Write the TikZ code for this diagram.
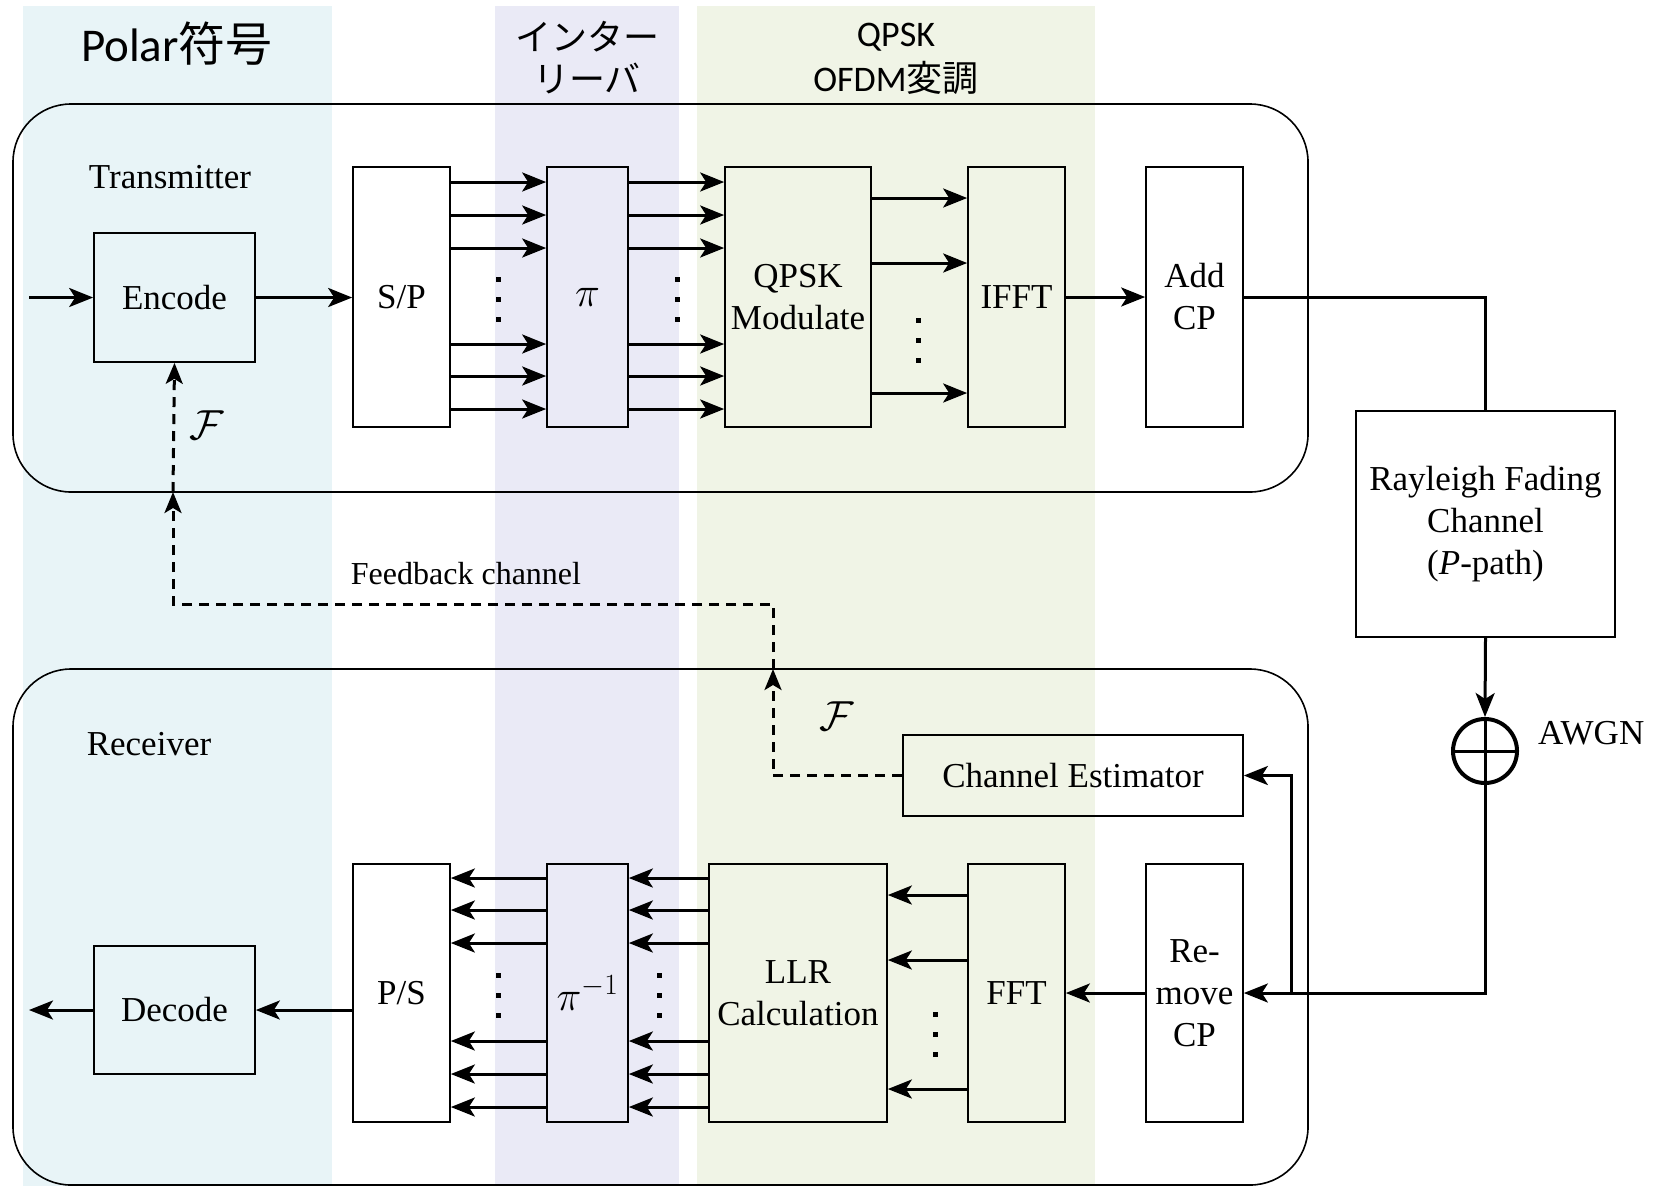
\RequirePackage{fix-cm}
\documentclass[tikz,border=0pt]{standalone}
\usepackage{fontspec}
\setmainfont{Liberation Serif}
\newfontfamily\carl{Carlito}
\newfontfamily\cjk{Noto Sans CJK JP}
\usetikzlibrary{arrows.meta,calc}
\definecolor{bandblue}{RGB}{232,244,247}
\definecolor{bandpurple}{RGB}{234,234,246}
\definecolor{bandgreen}{RGB}{240,244,230}
\newcommand\mydots[2]{\fill (#1-2.5,#2-22.5) rectangle (#1+2.5,#2-17.5);
  \fill (#1-2.5,#2-2.5) rectangle (#1+2.5,#2+2.5);
  \fill (#1-2.5,#2+17.5) rectangle (#1+2.5,#2+22.5);}
\begin{document}
\begin{tikzpicture}[x=1pt,y=-1pt,
  txt/.style={font=\fontsize{35}{42}\selectfont, inner sep=0pt, align=center},
  box/.style={draw, line width=1.7pt, rectangle, inner sep=0pt, align=center, font=\fontsize{35}{42}\selectfont},
  frame/.style={draw, line width=1.6pt, rectangle, rounded corners=58pt, inner sep=0pt},
  conn/.style={line width=3pt, -{Stealth[length=24pt,width=19pt,inset=6pt]}},
  line/.style={line width=3pt},
  fb/.style={line width=3pt, dash pattern=on 10pt off 7pt},
  fbarr/.style={fb, -{Stealth[length=21pt,width=17pt,inset=5pt]}},
  bandtitle/.style={inner sep=0pt, align=center},
  mathbig/.style={font=\fontsize{42}{48}\selectfont}
]
\useasboundingbox (0,0) rectangle (1661,1186);
% bands
\fill[bandblue] (23,6) rectangle (332,1186);
\fill[bandpurple] (495,6) rectangle (679,1186);
\fill[bandgreen] (697,6) rectangle (1095,1186);
\node[bandtitle] (t1) at (177,44) {\fontsize{47}{56}\selectfont{\carl Polar}{\cjk 符号}};
\node[bandtitle, font=\fontsize{36}{42}\selectfont] (t2) at (587,58) {{\cjk インター}\\{\cjk リーバ}};
\node[bandtitle, font=\fontsize{36}{45}\selectfont] (t3) at (896,59) {{\carl QPSK}\\{\carl OFDM}{\cjk 変調}};
% frames
\node[frame, minimum width=1295pt, minimum height=388pt] (tx) at (660.5,298) {};
\node[frame, minimum width=1295pt, minimum height=516pt] (rx) at (660.5,927) {};
\node[txt] (txl) at (170,177) {Transmitter};
\node[txt] (rxl) at (149,744) {Receiver};
% transmitter boxes
\node[box, minimum width=161pt, minimum height=129pt] (enc) at (174.5,297.5) {Encode};
\node[box, minimum width=97pt, minimum height=260pt] (sp) at (401.5,297) {S/P};
\node[box, mathbig, minimum width=81pt, minimum height=260pt] (pi) at (587.5,297) {$\pi$};
\node[box, minimum width=146pt, minimum height=260pt] (qpsk) at (798,297) {QPSK\\Modulate};
\node[box, minimum width=97pt, minimum height=260pt] (ifft) at (1016.5,297) {IFFT};
\node[box, minimum width=97pt, minimum height=260pt] (addcp) at (1194.5,297) {Add\\CP};
% channel
\node[box, minimum width=259pt, minimum height=226pt] (ray) at (1485.5,524) {Rayleigh Fading\\Channel\\(\textit{P}-path)};
\node[draw, circle, line width=4pt, minimum size=64pt, inner sep=0pt] (awgn) at (1485,751) {};
\draw[line width=3pt] (awgn.north) -- (awgn.south) (awgn.west) -- (awgn.east);
\node[txt, anchor=west] (awgnl) at (1538,733) {AWGN};
% receiver boxes
\node[box, minimum width=340pt, minimum height=81pt] (chest) at (1073,775.5) {Channel Estimator};
\node[box, minimum width=97pt, minimum height=258pt] (ps) at (401.5,993) {P/S};
\node[box, mathbig, minimum width=81pt, minimum height=258pt] (pinv) at (587.5,993) {$\pi^{-1}$};
\node[box, minimum width=178pt, minimum height=258pt] (llr) at (798,993) {LLR\\Calculation};
\node[box, minimum width=97pt, minimum height=258pt] (fft) at (1016.5,993) {FFT};
\node[box, minimum width=97pt, minimum height=258pt] (rmcp) at (1194.5,993) {Re-\\move\\CP};
\node[box, minimum width=161pt, minimum height=128pt] (dec) at (174.5,1010) {Decode};
% coordinates
\coordinate (in) at (29,297.5);
\coordinate (out) at (29,1010);
\coordinate (br) at (1291,993);
\coordinate (fbr) at (773,669);
\coordinate (fbc) at (773,604);
\coordinate (fbt) at (173,492);
% transmitter connectors
\draw[conn] (in) -- (enc.west);
\draw[conn] (enc.east) -- (sp.west |- enc.east);
\foreach \yy in {182,215,248,344,376,409}{
  \draw[conn] (sp.east |- 0,\yy) -- (pi.west |- 0,\yy);
  \draw[conn] (pi.east |- 0,\yy) -- (qpsk.west |- 0,\yy);
}
\foreach \yy in {198,263,393}{
  \draw[conn] (qpsk.east |- 0,\yy) -- (ifft.west |- 0,\yy);
}
\draw[conn] (ifft.east) -- (addcp.west);
\draw[line] (addcp.east) -| (ray.north);
\draw[conn] (ray.south) -- (awgn.north);
\draw[conn] (awgn.south) |- (rmcp.east);
\draw[conn] (br) |- (chest.east);
% receiver connectors
\draw[conn] (rmcp.west) -- (fft.east);
\foreach \yy in {895,960,1089}{
  \draw[conn] (fft.west |- 0,\yy) -- (llr.east |- 0,\yy);
}
\foreach \yy in {878,910,943,1041,1074,1107}{
  \draw[conn] (llr.west |- 0,\yy) -- (pinv.east |- 0,\yy);
  \draw[conn] (pinv.west |- 0,\yy) -- (ps.east |- 0,\yy);
}
\draw[conn] (ps.west |- dec.east) -- (dec.east);
\draw[conn] (dec.west) -- (out);
% feedback
\draw[fbarr] (chest.west) -| (fbr);
\draw[fbarr] (fbr) -- (fbc) -| (fbt);
\draw[fbarr] (fbt) -- (enc.south);
\node[txt, font=\fontsize{32}{38}\selectfont] (fbl) at (466,574) {Feedback channel};
\node[txt, mathbig] (f1) at (207,425) {$\mathcal{F}$};
\node[txt, mathbig] (f2) at (837,716) {$\mathcal{F}$};
% dots
\mydots{498}{299}
\mydots{677}{299}
\mydots{918}{340}
\mydots{498}{995}
\mydots{659}{995}
\mydots{935}{1034}
\end{tikzpicture}
\end{document}
